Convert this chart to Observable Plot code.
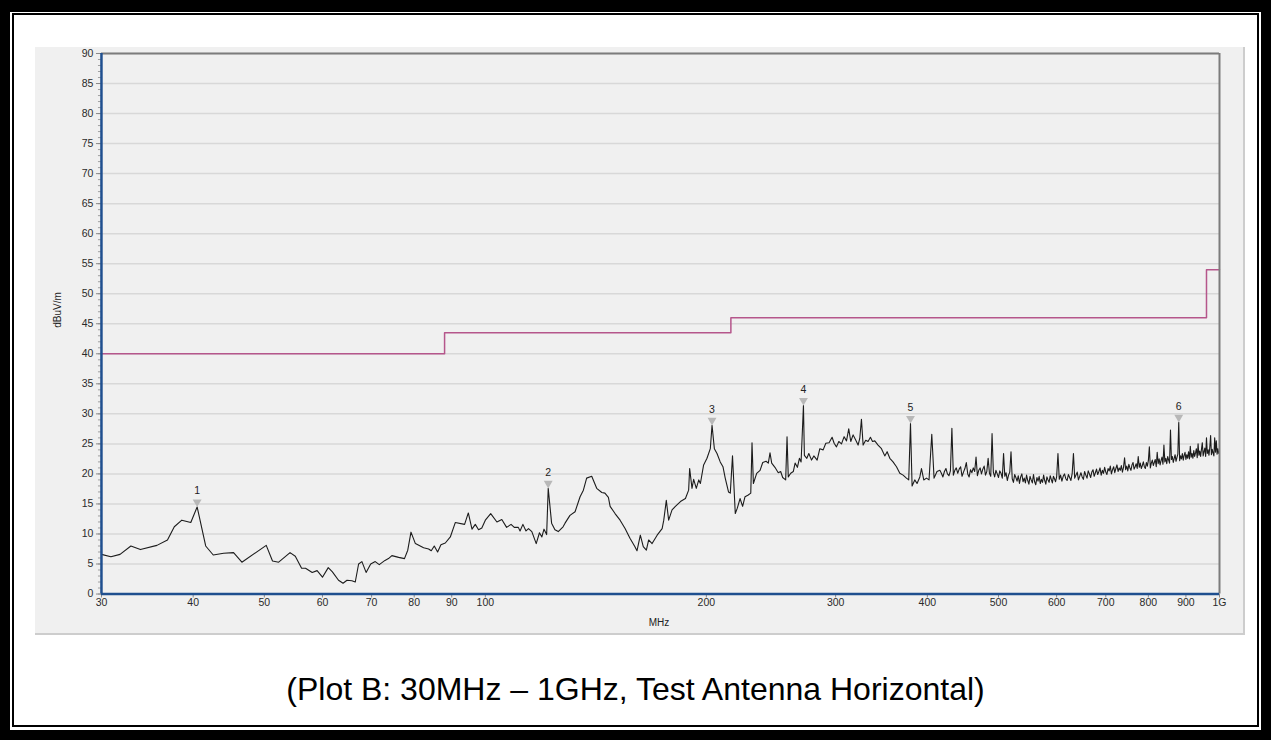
<!DOCTYPE html>
<html>
<head>
<meta charset="utf-8">
<script src="https://cdn.jsdelivr.net/npm/d3@7"></script>
<script src="https://cdn.jsdelivr.net/npm/@observablehq/plot@0.6"></script>
<style>
  html, body { margin: 0; padding: 0; background: #fff; }
  body { width: 1271px; height: 740px; position: relative; overflow: hidden; font-family: "Liberation Sans", Arial, sans-serif; }
  #outer { position: absolute; left: 0; top: 0; width: 1271px; height: 740px; box-sizing: border-box; border: 10px solid #000; border-top-width: 12px; }
  #inner { position: absolute; left: 12px; top: 13px; width: 1247px; height: 714px; box-sizing: border-box; border: 2px solid #000; }
  #panel { position: absolute; left: 35px; top: 47px; width: 1208px; height: 586px; background: #f0f0f0; border-right: 2px solid #cdcdcd; border-bottom: 2px solid #cdcdcd; overflow: hidden; }
  #panel svg { display: block; }
  #ylab { position: absolute; left: 57px; top: 310px; transform: translate(-50%, -50%) rotate(-90deg); font-size: 10px; color: #222; white-space: nowrap; }
  #xlab { position: absolute; left: 659px; top: 622px; transform: translate(-50%, -50%); font-size: 10px; color: #222; }
  #caption { position: absolute; left: 0; top: 671px; width: 1271px; text-align: center; font-size: 32px; color: #000; }
</style>
</head>
<body>
<div id="outer"></div>
<div id="inner"></div>
<div id="panel"></div>
<div id="ylab">dBuV/m</div>
<div id="xlab">MHz</div>
<div id="caption">(Plot B: 30MHz – 1GHz, Test Antenna Horizontal)</div>
<script>
// ---- Data ----
const freqMHz = [
  30, 30.9, 31.8, 32.9, 33.9, 35.7, 36.9, 37.7, 38.6, 39.7, 40.5, 41.6, 42.6, 44.0, 45.4, 46.6,
  50.3, 51.3, 52.3, 54.2, 55.1, 56.2, 56.9, 58.1, 59.0, 60.0, 61.1, 61.9, 63.1, 64.0, 64.8, 65.8,
  66.5, 67.2, 67.9, 68.8, 69.8, 70.8, 71.7, 73.0, 73.8, 74.6, 76.2, 77.6, 78.4, 79.2, 80.3, 82.4,
  83.7, 84.4, 85.2, 86.1, 87.0, 88.2, 89.6, 91.0, 93.7, 94.8, 95.9, 96.9, 97.9, 98.9, 100.0, 101.7,
  103.7, 105.3, 106.9, 108.4, 109.5, 110.9, 111.5, 112.5, 113.6, 114.5, 115.7, 117.3, 118.5, 119.4, 120.2, 121.2,
  121.8, 123.1, 124.4, 125.7, 127.6, 128.4, 130.4, 132.5, 134.6, 136.0, 137.4, 139.6, 141.8, 144.1, 145.5, 147.1,
  147.9, 150.2, 152.6, 155.0, 157.4, 159.8, 160.9, 162.6, 164.1, 165.7, 166.9, 168.7, 171.4, 174.1, 175.0, 176.4,
  177.7, 179.6, 181.5, 184.4, 187.3, 189.2, 189.8, 191.2, 192.2, 193.8, 195.3, 196.3, 198.3, 200.4, 202.5, 203.6,
  205.1, 206.8, 208.9, 210.7, 212.2, 214.4, 215.6, 217.1, 219.0, 220.4, 222.3, 224.1, 225.8, 228.1, 229.9, 230.8,
  231.8, 234.2, 236.7, 238.7, 241.2, 242.9, 244.2, 245.5, 248.0, 250.6, 252.5, 254.1, 256.5, 257.6, 258.6, 260.6,
  262.7, 264.2, 266.1, 267.8, 269.2, 271.2, 272.0, 274.1, 275.8, 278.2, 280.2, 283.1, 285.5, 288.5, 290.9, 293.9,
  296.7, 298.6, 300.8, 303.0, 305.6, 308.1, 310.4, 312.6, 314.6, 316.9, 319.6, 321.9, 323.6, 325.3, 327.0, 329.7,
  332.1, 334.6, 336.8, 339.2, 342.7, 346.4, 350.0, 352.6, 355.6, 359.2, 363.1, 366.9, 370.7, 374.6, 377.3, 379.4,
  381.3, 384.5, 387.3, 390.7, 392.7, 395.5, 398.9, 402.1, 405.6, 408.5, 412.3,
  416, 418, 420, 422, 424, 426, 428, 430, 432, 434, 436, 438, 440, 442, 444, 446,
  448, 450, 452, 454, 456, 458, 460, 462, 464, 466, 468, 470, 472, 474, 476, 478,
  480, 482, 484, 486, 488, 490, 492, 494, 496, 498, 500, 502, 504, 506, 508, 510,
  512, 514, 516, 518, 520, 522, 524, 526, 528, 530, 532, 534, 536, 538, 540, 542,
  544, 546, 548, 550, 552, 554, 556, 558, 560, 562, 564, 566, 568, 570, 572, 574,
  576, 578, 580, 582, 584, 586, 588, 590, 592, 594, 596, 598, 600,
  602.5, 605, 607.5, 610, 612.5, 615, 617.5, 620, 622.5, 625,
  627.5, 630, 632.5, 635, 637.5, 640, 642.5, 645, 647.5, 650,
  652.5, 655, 657.5, 660, 662.5, 665, 667.5, 670, 672.5, 675,
  677.5, 680, 682.5, 685, 687.5, 690, 692.5, 695, 697.5, 700,
  702.5, 705, 707.5, 710, 712.5, 715, 717.5, 720, 722.5, 725,
  727.5, 730, 732.5, 735, 737.5, 740, 742.5, 745, 747.5, 750,
  752.5, 755, 757.5, 760, 762.5, 765, 767.5, 770, 772.5, 775,
  777.5, 780, 782.5, 785, 787.5, 790, 792.5, 795, 797.5, 800,
  802.5, 805, 807.5, 810, 812.5, 815, 817.5, 820, 822.5, 825,
  827.5, 830, 832.5, 835, 837.5, 840, 842.5, 845, 847.5, 850,
  852.5, 855, 857.5, 860, 862.5, 865, 867.5, 870, 872.5, 875,
  877.5, 880, 882.5, 885, 887.5, 890, 892.5, 895, 897.5, 900,
  902.5, 905, 907.5, 910, 912.5, 915, 917.5, 920, 922.5, 925,
  927.5, 930, 932.5, 935, 937.5, 940, 942.5, 945, 947.5, 950,
  952.5, 955, 957.5, 960, 962.5, 965, 967.5, 970, 972.5, 975,
  977.5, 980, 982.5, 985, 987.5, 990, 992.5, 995, 997.5, 1000
];
const levelDb = [
  6.6, 6.2, 6.6, 8.0, 7.4, 8.1, 9.0, 11.2, 12.3, 11.9, 14.5, 8.0, 6.5, 6.8, 6.9, 5.3,
  8.1, 5.5, 5.3, 6.9, 6.3, 4.3, 4.3, 3.6, 3.9, 2.8, 4.4, 3.7, 2.3, 1.8, 2.3, 2.2,
  2.0, 5.0, 5.4, 3.6, 5.0, 5.4, 4.9, 5.6, 5.9, 6.4, 6.1, 5.9, 7.3, 10.3, 8.4, 7.7,
  7.5, 7.2, 8.0, 7.0, 8.2, 8.5, 9.5, 11.9, 11.6, 13.5, 10.8, 11.6, 10.7, 11.0, 12.3, 13.4,
  12.0, 12.4, 11.1, 11.6, 11.1, 11.1, 10.5, 11.6, 10.5, 10.9, 10.4, 8.4, 10.2, 9.5, 10.8, 9.9,
  17.6, 11.8, 10.7, 10.4, 11.2, 11.8, 13.1, 13.7, 16.2, 17.3, 19.3, 19.6, 17.6, 16.9, 16.8, 16.1,
  14.6, 13.4, 12.3, 10.9, 9.3, 7.9, 7.2, 9.8, 7.9, 7.3, 9.0, 8.4, 9.8, 10.9, 12.3, 15.6,
  12.3, 14.0, 14.6, 15.4, 15.9, 17.3, 20.9, 17.6, 19.1, 17.6, 19.0, 18.4, 21.5, 22.6, 24.2, 28.1,
  24.2, 23.4, 22.0, 21.2, 19.3, 17.0, 16.8, 23.0, 13.4, 14.3, 15.9, 14.6, 16.2, 16.5, 16.8, 25.2,
  18.4, 20.1, 20.6, 21.9, 22.1, 21.8, 23.5, 21.8, 21.1, 20.2, 20.4, 19.4, 19.0, 26.2, 19.5, 20.1,
  20.4, 21.8, 21.1, 22.6, 22.0, 31.4, 23.1, 22.6, 23.4, 22.3, 23.0, 22.3, 24.2, 24.0, 25.1, 25.2,
  26.1, 25.1, 24.5, 25.4, 25.0, 26.2, 25.5, 27.5, 25.4, 26.5, 25.6, 24.8, 25.9, 29.1, 24.8, 25.6,
  25.4, 26.1, 25.4, 25.5, 24.8, 24.2, 23.0, 23.7, 22.6, 22.0, 21.2, 20.1, 19.8, 19.3, 19.0, 28.4,
  18.0, 19.0, 18.4, 19.5, 20.9, 19.0, 19.3, 19.0, 26.6, 19.3, 20.4,
  20.6, 20.1, 19.5, 20.4, 20.9, 20.0, 19.7, 20.5, 27.6, 19.8, 20.6, 21.0, 20.1, 20.8, 21.2, 19.6,
  20.3, 20.9, 21.9, 20.0, 19.5, 20.7, 20.2, 21.0, 20.4, 22.8, 19.7, 20.6, 21.0, 20.0, 20.8, 21.3,
  19.8, 20.4, 22.6, 20.1, 19.6, 26.7, 20.3, 19.5, 20.6, 20.0, 19.4, 20.5, 20.1, 19.3, 23.4, 19.6,
  20.2, 18.9, 19.8, 20.3, 23.7, 19.2, 18.6, 19.9, 19.4, 18.8, 19.7, 18.4, 19.5, 20.0, 18.7, 19.3,
  18.5, 19.8, 18.9, 18.3, 19.6, 19.0, 18.5, 19.9, 18.7, 18.2, 19.4, 18.8, 19.6, 18.4, 19.1, 18.6,
  19.8, 18.9, 18.3, 19.5, 19.0, 18.6, 19.7, 19.1, 18.5, 19.6, 19.2, 18.7, 19.5,
  23.4, 19.1, 19.8, 18.8, 19.6, 20.0, 19.2, 18.9, 19.9, 19.4,
  18.9, 20.1, 23.4, 19.3, 19.8, 20.3, 19.0, 19.6, 20.2, 19.5,
  19.1, 20.4, 19.8, 19.3, 20.5, 20.0, 19.4, 20.3, 20.7, 19.6,
  20.2, 20.8, 19.9, 20.4, 21.0, 19.8, 20.6, 20.1, 21.1, 20.3,
  19.9, 20.9, 20.5, 21.3, 20.0, 20.7, 21.2, 20.2, 20.9, 21.5,
  20.4, 21.0, 20.6, 21.4, 20.3, 21.1, 22.7, 20.7, 21.3, 20.5,
  21.6, 21.0, 20.6, 21.5, 21.9, 20.8, 21.2, 21.7, 20.9, 22.9,
  21.1, 21.8, 20.9, 21.4, 22.0, 21.2, 20.9, 21.9, 21.3, 22.2,
  24.5, 21.0, 21.8, 22.3, 21.4, 21.9, 22.4, 21.2, 23.6, 21.7,
  22.5, 21.5, 22.2, 22.8, 21.6, 24.8, 22.0, 22.6, 21.7, 22.9,
  22.3, 21.8, 27.3, 22.4, 22.9, 21.9, 22.6, 23.2, 22.1, 22.7,
  23.3, 28.6, 22.2, 23.0, 22.5, 23.4, 22.3, 23.1, 23.6, 22.4,
  23.2, 22.6, 23.7, 22.5, 24.6, 22.8, 23.4, 22.6, 23.9, 22.9,
  23.5, 24.2, 22.7, 25.0, 23.1, 23.8, 22.9, 24.1, 25.2, 23.0,
  23.7, 24.3, 22.9, 26.0, 23.4, 24.0, 23.1, 24.4, 26.4, 23.2,
  24.1, 23.5, 23.0, 26.0, 23.6, 25.5, 23.3, 24.2, 23.4, 23.8
];
const limitFreq = [30, 88, 216, 960, 1000];
const limitLevel = [40, 43.5, 46, 54, 54];
const markerFreq = [40.5, 121.8, 203.6, 271.2, 379.4, 880];
const markerLevel = [14.5, 17.6, 28.1, 31.4, 28.4, 28.6];
const markerLabel = ["1", "2", "3", "4", "5", "6"];
const xTicks = [30, 40, 50, 60, 70, 80, 90, 100, 200, 300, 400, 500, 600, 700, 800, 900, 1000];
const xTickLabels = ["30", "40", "50", "60", "70", "80", "90", "100", "200", "300", "400", "500", "600", "700", "800", "900", "1G"];
const yTicks = d3.range(0, 91, 5);
const yMinorTicks = d3.range(0, 91, 1);

// ---- Build tables ----
const trace = freqMHz.map((f, i) => ({f, v: levelDb[i]}));
const limit = limitFreq.map((f, i) => ({f, v: limitLevel[i]}));
const markers = markerFreq.map((f, i) => ({f, v: markerLevel[i], label: markerLabel[i]}));
const xTickTable = xTicks.map((t, i) => ({t, label: xTickLabels[i]}));

const blue = "#1f4f8f";
const frameGray = "#7c7c7c";

const chart = Plot.plot({
  width: 1209,
  height: 587,
  marginLeft: 66,
  marginRight: 24,
  marginTop: 6,
  marginBottom: 40,
  style: {background: "#f0f0f0", fontFamily: "'Liberation Sans', Arial, sans-serif", fontSize: "10.5px", color: "#2a2a2a"},
  x: {type: "log", domain: [30, 1000]},
  y: {domain: [0, 90]},
  marks: [
    Plot.ruleY(yTicks, {stroke: "#d8d8d8", strokeWidth: 1.5}),
    Plot.axisY({ticks: yMinorTicks, tickSize: 3, tickFormat: () => "", stroke: "#a0a0a0", label: null}),
    Plot.axisY({ticks: yTicks, tickSize: 5, tickPadding: 3, stroke: "#8a8a8a", label: null}),
    Plot.axisX({ticks: xTicks, tickSize: 4, tickFormat: () => "", stroke: "#8a8a8a", label: null}),
    Plot.text(xTickTable, {x: "t", text: "label", frameAnchor: "bottom", dy: 12, fill: "#2a2a2a", fontSize: 10.5}),
    Plot.line(limit, {x: "f", y: "v", curve: "step-after", stroke: "#b5568b", strokeWidth: 1.5}),
    Plot.line(trace, {x: "f", y: "v", stroke: "#1c1c1c", strokeWidth: 1.1}),
    Plot.dot(markers, {x: "f", y: "v", symbol: "triangle", r: 3.3, fill: "#b8b8b8", stroke: "none", rotate: 180, dy: -5}),
    Plot.text(markers, {x: "f", y: "v", text: "label", dy: -16, fill: "#222", fontSize: 10.5}),
    Plot.ruleY([90], {stroke: frameGray, strokeWidth: 2}),
    Plot.ruleX([1000], {stroke: frameGray, strokeWidth: 2}),
    Plot.ruleX([30], {stroke: blue, strokeWidth: 2.5}),
    Plot.ruleY([0], {stroke: blue, strokeWidth: 2.5})
  ]
});
document.getElementById("panel").appendChild(chart);
</script>
</body>
</html>
